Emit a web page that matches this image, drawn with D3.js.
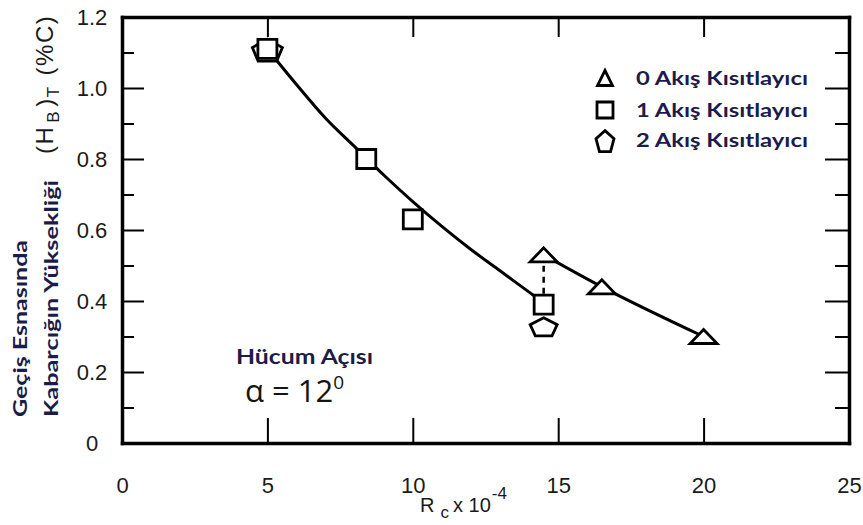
<!DOCTYPE html>
<html>
<head>
<meta charset="utf-8">
<script src="https://cdn.jsdelivr.net/npm/d3@7"></script>
<style>
body { margin: 0; background: #fff; }
svg { display: block; }
.axis path.domain { stroke: #000; stroke-width: 3.5; stroke-linecap: square; }
.axis line { stroke: #000; stroke-width: 2; }
.axis text { font-family: "Liberation Sans", Arial, sans-serif; font-size: 22px; fill: #1a1a1a; }
.note { font-family: Lato, "Open Sans", sans-serif; font-weight: bold; fill: #1c1c4a; }
</style>
</head>
<body>
<div id="chart"></div>
<script>
const width = 863, height = 525;
const plot = {left: 122, right: 849, top: 17, bottom: 443};

const xTicks = [0, 5, 10, 15, 20, 25];
const yTicks = [0, 0.2, 0.4, 0.6, 0.8, 1.0, 1.2];
const yMinorTicks = [0.1, 0.3, 0.5, 0.7, 0.9, 1.1];
const yTickLabels = ["0", "0.2", "0.4", "0.6", "0.8", "1.0", "1.2"];

// 0 flow restrictors (triangles)
const triX = [14.5, 16.5, 20];
const triY = [0.53, 0.44, 0.30];
// 1 flow restrictor (squares)
const squareX = [5, 8.4, 10, 14.5];
const squareY = [1.11, 0.80, 0.63, 0.39];
// 2 flow restrictors (pentagons)
const pentX = [5, 14.5];
const pentY = [1.11, 0.33];
// hand-drawn curve through the 1-restrictor points
const fitX = [5, 6, 7, 8, 9, 10, 11, 12, 13, 14, 14.5];
const fitY = [1.11, 1.01, 0.915, 0.835, 0.755, 0.68, 0.61, 0.545, 0.485, 0.425, 0.395];

const legendLabels = ["0 Akış Kısıtlayıcı", "1 Akış Kısıtlayıcı", "2 Akış Kısıtlayıcı"];

const svg = d3.select("#chart").append("svg")
    .attr("width", width)
    .attr("height", height);

const x = d3.scaleLinear().domain([0, 25]).range([plot.left, plot.right]);
const y = d3.scaleLinear().domain([0, 1.2]).range([plot.bottom, plot.top]);

// marker outlines, centred on 0,0
function trianglePath(w, h) {
    return `M0,${-h / 2}L${w / 2},${h / 2}L${-w / 2},${h / 2}Z`;
}
function squarePath(s) {
    return `M${-s / 2},${-s / 2}H${s / 2}V${s / 2}H${-s / 2}Z`;
}
function pentagonPath(w, h) {
    const pts = d3.range(5).map(i => {
        const a = -Math.PI / 2 + i * 2 * Math.PI / 5;
        return [Math.cos(a) * w / 2 / Math.cos(Math.PI / 10), (Math.sin(a) + 0.19) * h / 1.81];
    });
    return "M" + pts.map(p => p.join(",")).join("L") + "Z";
}

// axes
const left = svg.append("g").attr("class", "axis")
    .attr("transform", `translate(${plot.left},0)`)
    .call(d3.axisLeft(y).tickValues(yTicks).tickSizeInner(-22).tickSizeOuter(0)
        .tickPadding(0).tickFormat((d, i) => yTickLabels[i]));
left.selectAll("text").attr("x", 92 - plot.left).attr("text-anchor", "middle");
left.select(".domain").attr("stroke-width", 4.5);

svg.append("g").attr("class", "axis")
    .attr("transform", `translate(${plot.left},0)`)
    .call(d3.axisLeft(y).tickValues(yMinorTicks).tickSize(-12).tickFormat(""))
    .select(".domain").remove();

svg.append("g").attr("class", "axis")
    .attr("transform", `translate(${plot.right},0)`)
    .call(d3.axisRight(y).tickValues(yTicks).tickSizeInner(-24).tickSizeOuter(0).tickFormat(""));

svg.append("g").attr("class", "axis")
    .attr("transform", `translate(${plot.right},0)`)
    .call(d3.axisRight(y).tickValues(yMinorTicks).tickSize(-14).tickFormat(""))
    .select(".domain").remove();

svg.append("g").attr("class", "axis")
    .attr("transform", `translate(0,${plot.bottom})`)
    .call(d3.axisBottom(x).tickValues(xTicks).tickSizeInner(-25).tickSizeOuter(0).tickPadding(34));

svg.append("g").attr("class", "axis")
    .attr("transform", `translate(0,${plot.top})`)
    .call(d3.axisTop(x).tickValues(xTicks).tickSizeInner(-20).tickSizeOuter(0).tickFormat(""));

// axis titles
const xTitle = svg.append("text")
    .attr("x", 420).attr("y", 512)
    .style("font-family", "'Liberation Sans', Arial, sans-serif")
    .style("font-size", "20px").attr("fill", "#1a1a1a");
xTitle.append("tspan").text("R");
xTitle.append("tspan").attr("dx", 6).attr("dy", 6).style("font-size", "17px").text("c");
xTitle.append("tspan").attr("dx", 4).attr("dy", -6).text("x 10");
xTitle.append("tspan").attr("dx", 1).attr("dy", -13).style("font-size", "17px").text("-4");

const yTitle = svg.append("text")
    .attr("transform", "translate(53,154) rotate(-90)")
    .style("font-family", "'Liberation Sans', Arial, sans-serif")
    .style("font-size", "24px").style("letter-spacing", "1.5px").attr("fill", "#1a1a1a");
yTitle.append("tspan").text("(H");
yTitle.append("tspan").attr("dx", 3).attr("dy", 6).style("font-size", "17px").text("B");
yTitle.append("tspan").attr("dx", 3).attr("dy", -6).text(")");
yTitle.append("tspan").attr("dy", 6).style("font-size", "17px").text("T");
yTitle.append("tspan").attr("dx", 10).attr("dy", -6).text("(%C)");

svg.append("text").attr("class", "note")
    .attr("transform", "translate(27,417) rotate(-90)")
    .style("font-size", "19px")
    .attr("textLength", 177).attr("lengthAdjust", "spacingAndGlyphs")
    .text("Geçiş Esnasında");
svg.append("text").attr("class", "note")
    .attr("transform", "translate(58,417) rotate(-90)")
    .style("font-size", "19px")
    .attr("textLength", 237).attr("lengthAdjust", "spacingAndGlyphs")
    .text("Kabarcığın Yüksekliği");

// curves
const line = d3.line().x(d => x(d[0])).y(d => y(d[1])).curve(d3.curveMonotoneX);

svg.append("path")
    .datum(d3.zip(fitX, fitY))
    .attr("d", line)
    .attr("fill", "none").attr("stroke", "#000").attr("stroke-width", 3);

svg.append("path")
    .datum(d3.zip(triX, triY))
    .attr("d", line)
    .attr("fill", "none").attr("stroke", "#000").attr("stroke-width", 3);

// dashed link between the 0- and 1-restrictor points at the same Rc
svg.append("line")
    .attr("x1", x(triX[0])).attr("x2", x(triX[0]))
    .attr("y1", y(triY[0])).attr("y2", y(squareY[3]))
    .attr("stroke", "#000").attr("stroke-width", 2.5)
    .attr("stroke-dasharray", "6,5");

// markers
const markerStyle = sel => sel.attr("fill", "#fff").attr("stroke", "#000").attr("stroke-width", 2.8);

svg.append("g").selectAll("path")
    .data(d3.zip(pentX, pentY))
    .join("path")
    .attr("transform", d => `translate(${x(d[0])},${y(d[1])})`)
    .attr("d", (d, i) => i === 0 ? pentagonPath(30, 22) : pentagonPath(27, 18))
    .call(markerStyle);

svg.append("g").selectAll("path")
    .data(d3.zip(squareX, squareY))
    .join("path")
    .attr("transform", d => `translate(${x(d[0])},${y(d[1])})`)
    .attr("d", squarePath(19))
    .call(markerStyle);

svg.append("g").selectAll("path")
    .data(d3.zip(triX, triY))
    .join("path")
    .attr("transform", d => `translate(${x(d[0])},${y(d[1])})`)
    .attr("d", trianglePath(27, 14))
    .call(markerStyle);

// legend
const legendShapes = [trianglePath(15, 15), squarePath(16), pentagonPath(18, 21)];
const legend = svg.append("g").selectAll("g")
    .data(legendLabels)
    .join("g")
    .attr("transform", (d, i) => `translate(605,${[78, 110, 140][i]})`);
legend.append("path")
    .attr("d", (d, i) => legendShapes[i])
    .call(markerStyle);
legend.append("text").attr("class", "note")
    .attr("x", 31).attr("y", 7)
    .style("font-size", "19px")
    .attr("textLength", 172).attr("lengthAdjust", "spacingAndGlyphs")
    .text(d => d);

// angle of attack note
svg.append("text").attr("class", "note")
    .attr("x", 236).attr("y", 364)
    .style("font-size", "20px")
    .attr("textLength", 137).attr("lengthAdjust", "spacingAndGlyphs")
    .text("Hücum Açısı");
const alpha = svg.append("text")
    .attr("x", 245).attr("y", 402)
    .style("font-family", "'Open Sans', sans-serif")
    .style("font-size", "31px").attr("fill", "#141414");
alpha.append("tspan").text("α = 12");
alpha.append("tspan").attr("dy", -13).style("font-size", "19px").text("0");
</script>
</body>
</html>
